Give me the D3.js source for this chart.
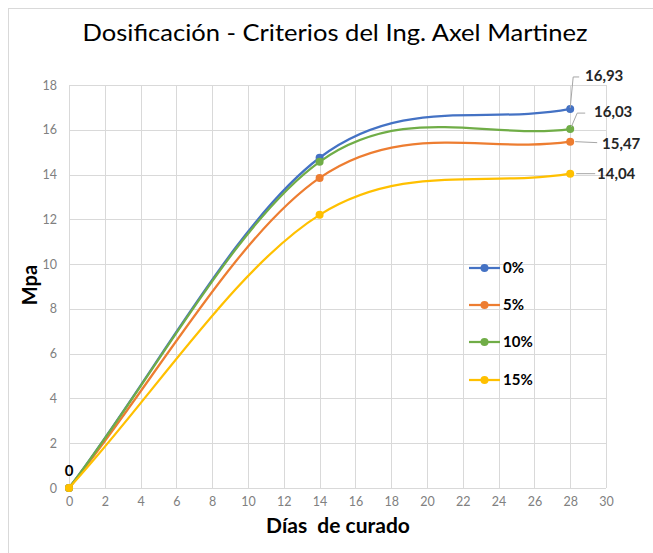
<!DOCTYPE html>
<html><head><meta charset="utf-8">
<script src="https://cdn.jsdelivr.net/npm/d3@7"></script>
<style>body{margin:0;background:#fff}svg{display:block}</style>
</head><body>
<script>
const days = [0, 14, 28];
const seriesNames = ["0%", "5%", "10%", "15%"];
const s0 = [0, 14.75, 16.93];
const s5 = [0, 13.85, 15.47];
const s10 = [0, 14.57, 16.03];
const s15 = [0, 12.2, 14.04];
const seriesValues = [s0, s5, s10, s15];
const colors = ["#4472C4", "#ED7D31", "#70AD47", "#FFC000"];
const xTicks = d3.range(0, 31, 2);
const yTicks = d3.range(0, 19, 2);
const title = "Dosificación - Criterios del Ing. Axel Martinez";
const xTitle = "Días  de curado";
const yTitle = "Mpa";

const W = 653, H = 553;
const font = "Lato, 'Open Sans', sans-serif";
const svg = d3.select("body").append("svg").attr("width", W).attr("height", H);

// Excel-like smoothing curve (Catmull-Rom interior, 1/3 chord at ends)
function ExcelSmooth(context) { this._context = context; }
ExcelSmooth.prototype = {
  areaStart() {}, areaEnd() {},
  lineStart() { this._pts = []; },
  point(x, y) { this._pts.push([+x, +y]); },
  lineEnd() {
    const p = this._pts, n = p.length, c = this._context;
    if (!n) return;
    c.moveTo(p[0][0], p[0][1]);
    if (n === 1) return;
    if (n === 2) { c.lineTo(p[1][0], p[1][1]); return; }
    for (let i = 0; i < n - 1; i++) {
      const a = p[i], b = p[i + 1];
      let c1, c2;
      if (i === 0) c1 = [a[0] + (b[0] - a[0]) / 3, a[1] + (b[1] - a[1]) / 3];
      else { const pr = p[i - 1]; c1 = [a[0] + (b[0] - pr[0]) / 6, a[1] + (b[1] - pr[1]) / 6]; }
      if (i === n - 2) c2 = [b[0] - (b[0] - a[0]) / 3, b[1] - (b[1] - a[1]) / 3];
      else { const nx = p[i + 2]; c2 = [b[0] - (nx[0] - a[0]) / 6, b[1] - (nx[1] - a[1]) / 6]; }
      c.bezierCurveTo(c1[0], c1[1], c2[0], c2[1], b[0], b[1]);
    }
  }
};
const curveExcel = ctx => new ExcelSmooth(ctx);

// chart border (top & left visible)
svg.append("rect").attr("x", 8.5).attr("y", 8.5).attr("width", 660).attr("height", 560)
  .attr("fill", "#fff").attr("stroke", "#d9d9d9").attr("stroke-width", 1);

const x = d3.scaleLinear().domain([0, 30]).range([69, 606]);
const y = d3.scaleLinear().domain([0, 18]).range([488, 85]);

// gridlines
const g = svg.append("g");
g.selectAll(".vg").data(xTicks).join("line")
  .attr("x1", d => Math.round(x(d)) + 0.5).attr("x2", d => Math.round(x(d)) + 0.5)
  .attr("y1", y(18)).attr("y2", y(0)).attr("stroke", "#d9d9d9").attr("stroke-width", 1);
g.selectAll(".hg").data(yTicks).join("line")
  .attr("y1", d => Math.round(y(d)) + 0.5).attr("y2", d => Math.round(y(d)) + 0.5)
  .attr("x1", x(0)).attr("x2", x(30)).attr("stroke", "#d9d9d9").attr("stroke-width", 1);

// axes tick labels via d3 axes
const xAxis = svg.append("g").attr("transform", `translate(0,${y(0)})`)
  .call(d3.axisBottom(x).tickValues(xTicks).tickSize(0).tickPadding(9));
const yAxis = svg.append("g").attr("transform", `translate(${x(0)},0)`)
  .call(d3.axisLeft(y).tickValues(yTicks).tickSize(0).tickPadding(9));
[xAxis, yAxis].forEach(a => {
  a.select(".domain").remove();
  a.selectAll("text").attr("fill", "#808080").style("font-family", font).style("font-size", "12.5px");
});
yAxis.selectAll("text").attr("dx", "-3");

// series
const line = d3.line().x(d => x(d[0])).y(d => y(d[1])).curve(curveExcel);
seriesValues.forEach((vals, i) => {
  const pts = days.map((d, j) => [d, vals[j]]);
  svg.append("path").attr("d", line(pts)).attr("fill", "none")
    .attr("stroke", colors[i]).attr("stroke-width", 2.25);
  svg.selectAll(null).data(pts).join("circle")
    .attr("cx", d => x(d[0])).attr("cy", d => y(d[1])).attr("r", 4)
    .attr("fill", colors[i]);
});

// data labels for last points with leader lines (series order: 0%,5%,10%,15%)
const fmt = v => d3.format(".2f")(v).replace(".", ",");
const labelPos = [
  {lx: 585, ly: 76, path: [[0, -1], [3, -32], [9, -32]]},
  {lx: 602, ly: 144, path: [[5, 0], [27, 1]]},
  {lx: 594, ly: 112, path: [[1, -2], [7, -16], [15, -16]]},
  {lx: 597, ly: 174, path: [[6, 0], [25, 0]]}
];
seriesValues.forEach((vals, i) => {
  const px = x(days[2]), py = y(vals[2]);
  const p = labelPos[i];
  svg.append("path")
    .attr("d", d3.line()(p.path.map(q => [px + q[0], py + q[1]])))
    .attr("fill", "none").attr("stroke", "#a6a6a6").attr("stroke-width", 1);
  svg.append("text").attr("x", p.lx).attr("y", p.ly).attr("dy", "0.35em")
    .style("font-family", font).style("font-size", "15px").style("font-weight", "bold")
    .attr("fill", "#262626").text(fmt(vals[2]));
});
// origin label
svg.append("text").attr("x", x(0)).attr("y", y(0) - 17).attr("dy", "0.35em")
  .attr("text-anchor", "middle").style("font-family", font).style("font-size", "15px")
  .style("font-weight", "bold").attr("fill", "#000").text("0");

// legend
const legY = [268, 305, 342, 380];
seriesNames.forEach((n, i) => {
  const lg = svg.append("g").attr("transform", `translate(469,${legY[i]})`);
  lg.append("line").attr("x1", 0).attr("x2", 31).attr("stroke", colors[i]).attr("stroke-width", 2.25);
  lg.append("circle").attr("cx", 15.5).attr("r", 4).attr("fill", colors[i]);
  lg.append("text").attr("x", 34).attr("dy", "0.35em").style("font-family", font)
    .style("font-size", "15px").style("font-weight", "bold").attr("fill", "#000").text(n);
});

// titles
svg.append("text").attr("x", 335).attr("y", 33).attr("dy", "0.35em").attr("text-anchor", "middle")
  .style("font-family", font).style("font-size", "23px").attr("fill", "#000")
  .attr("textLength", 505).attr("lengthAdjust", "spacingAndGlyphs").text(title);
svg.append("text").attr("x", 338).attr("y", 526).attr("dy", "0.35em").attr("text-anchor", "middle")
  .style("font-family", font).style("font-size", "21px").style("font-weight", "bold")
  .style("white-space", "pre").attr("fill", "#000")
  .text(xTitle);
svg.append("text").attr("transform", "translate(30,285) rotate(-90)").attr("dy", "0.35em")
  .attr("text-anchor", "middle").style("font-family", font).style("font-size", "20px")
  .style("font-weight", "bold").attr("fill", "#000").text(yTitle);
</script>
</body></html>
